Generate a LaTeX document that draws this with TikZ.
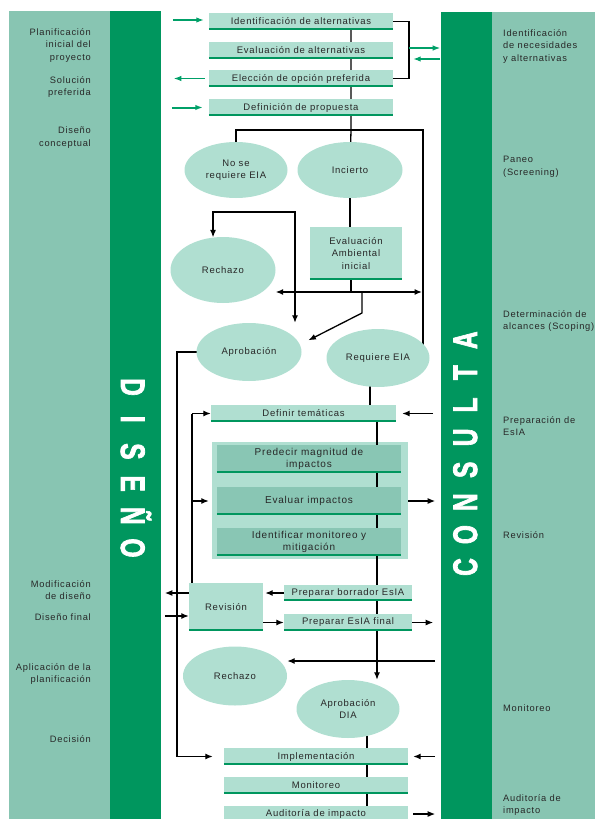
\documentclass[tikz,border=0pt]{standalone}
\usepackage{fontspec}
\setmainfont{Liberation Sans}[LetterSpace=8]
\newfontfamily\letraFuente{Liberation Sans Bold}[FakeBold=2.5]
\usepackage{graphicx}
\usetikzlibrary{calc}
\usetikzlibrary{arrows.meta}
\usetikzlibrary{shapes.geometric}

\definecolor{bandaClara}{RGB}{136,197,178}
\definecolor{bandaOscura}{RGB}{0,150,94}
\definecolor{cajaClara}{RGB}{176,223,209}
\definecolor{cajaMedia}{RGB}{137,198,180}
\definecolor{verdeFlecha}{RGB}{0,160,104}
\definecolor{texto}{RGB}{40,40,40}

\pgfdeclarelayer{fondo}
\pgfdeclarelayer{lineas}
\pgfsetlayers{fondo,lineas,main}

\begin{document}
\begin{tikzpicture}[x=1pt,y=-1pt,
  caja/.style={rectangle,fill=cajaClara,inner sep=0pt,text=texto,align=center,font=\fontsize{9.5}{12.5}\selectfont},
  oval/.style={ellipse,fill=cajaClara,inner sep=0pt,text=texto,align=center,font=\fontsize{9.5}{12.5}\selectfont},
  subcaja/.style={caja,fill=cajaMedia,minimum width=184pt,minimum height=28pt,font=\fontsize{10}{12.5}\selectfont},
  raya/.style={bandaOscura,line width=2pt},
  linea/.style={line width=1.3pt},
  punta/.tip={Latex[length=7.5pt,width=6pt]},
  flecha/.style={line width=1.3pt,-punta},
  flechaV/.style={verdeFlecha,line width=1.3pt,-{Latex[length=7.5pt,width=5.5pt]}},
  etiqIzq/.style={anchor=north east,inner sep=0pt,align=right,text=texto,font=\fontsize{9.3}{12.5}\selectfont},
  etiqDer/.style={anchor=north west,inner sep=0pt,align=left,text=texto,font=\fontsize{9.3}{12.5}\selectfont},
  letra/.style={anchor=base,inner sep=0pt,text=white,font=\letraFuente\fontsize{34}{34}\selectfont}]
\useasboundingbox (0,0) rectangle (595,819);

\coordinate (ejeA) at (351,0);
\coordinate (ejeB) at (377,0);
\coordinate (ejeC) at (367,0);
\coordinate (ejeD) at (370,0);
\coordinate (lat) at (192,0);
\coordinate (lat2) at (177,0);
\coordinate (bifA) at (351,130);
\coordinate (bifB) at (351,292);
\coordinate (bifC) at (377,661);
\coordinate (codoA) at (295,212);
\coordinate (der) at (423,358);

\begin{pgfonlayer}{fondo}
\fill[bandaClara] (9,11) rectangle (110,819);
\fill[bandaOscura] (110,11) rectangle (161,819);
\fill[bandaOscura] (441,12) rectangle (492,819);
\fill[bandaClara] (492,12) rectangle (595,819);
\node[rectangle,fill=cajaClara,minimum width=196pt,minimum height=117pt] (grupo) at (310,500.5) {};
\end{pgfonlayer}

\foreach \l [count=\i from 0] in {D,I,S,E,Ñ,O}
  \node[letra,rotate=-90] at (121,387+32.2*\i) {\scalebox{0.72}[1]{\l}};
\foreach \l [count=\i from 0] in {C,O,N,S,U,L,T,A}
  \node[letra,rotate=90] at (477,567-32.4*\i) {\scalebox{0.72}[1]{\l}};

\node[etiqIzq] (lPlan) at (91,28) {Planificación\\inicial del\\proyecto};
\node[etiqIzq] (lSol) at (91,76) {Solución\\preferida};
\node[etiqIzq] (lConc) at (91,127) {Diseño\\conceptual};
\node[etiqIzq] (lMod) at (91,580) {Modificación\\de diseño};
\node[etiqIzq] (lFin) at (91,614) {Diseño final};
\node[etiqIzq] (lApl) at (91,663) {Aplicación de la\\planificación};
\node[etiqIzq] (lDec) at (91,735) {Decisión};

\node[etiqDer] (rIdent) at (503,29) {Identificación\\de necesidades\\y alternativas};
\node[etiqDer] (rPaneo) at (503,156) {Paneo\\(Screening)};
\node[etiqDer] (rAlc) at (503,310) {Determinación de\\alcances (Scoping)};
\node[etiqDer] (rPrep) at (503,416) {Preparación de\\EsIA};
\node[etiqDer] (rRev) at (503,531) {Revisión};
\node[etiqDer] (rMon) at (503,705) {Monitoreo};
\node[etiqDer] (rAud) at (503,794) {Auditoría de\\impacto};

\node[caja,minimum width=184pt,minimum height=17pt] (ident) at (301,21.5) {Identificación de alternativas};
\node[caja,minimum width=184pt,minimum height=17pt] (evalalt) at (301,50.5) {Evaluación de alternativas};
\node[caja,minimum width=184pt,minimum height=17pt] (eleccion) at (301,78.5) {Elección de opción preferida};
\node[caja,minimum width=184pt,minimum height=17pt] (defprop) at (301,107.5) {Definición de propuesta};

\node[oval,minimum width=103pt,minimum height=56pt] (noeia) at (236,170) {No se\\requiere EIA};
\node[oval,minimum width=105pt,minimum height=56pt] (incierto) at (350,170) {Incierto};
\node[caja,minimum width=92pt,minimum height=53pt] (evalamb) at (356,253.5) {Evaluación\\Ambiental\\inicial};
\node[oval,minimum width=105pt,minimum height=66pt] (rechazoA) at (223,270) {Rechazo};
\node[oval,minimum width=105pt,minimum height=58pt] (aprobA) at (249,352) {Aprobación};
\node[oval,minimum width=103pt,minimum height=58pt] (requiere) at (378,358) {Requiere EIA};

\node[caja,minimum width=185pt,minimum height=17pt] (definir) at (303.5,413.5) {Definir temáticas};
\node[subcaja] (predecir) at (309,459) {Predecir magnitud de\\impactos};
\node[subcaja] (evaluar) at (309,501) {Evaluar impactos};
\node[subcaja] (identmon) at (309,542) {Identificar monitoreo y\\mitigación};

\node[caja,minimum width=74pt,minimum height=48pt] (revision) at (226,607) {Revisión};
\node[caja,minimum width=128pt,minimum height=16pt] (borrador) at (348,593) {Preparar borrador EsIA};
\node[caja,minimum width=128pt,minimum height=17pt] (final) at (348,622.5) {Preparar EsIA final};

\node[oval,minimum width=104pt,minimum height=59pt] (rechazoB) at (235,676) {Rechazo};
\node[oval,minimum width=103pt,minimum height=58pt] (aprobdia) at (348,709) {Aprobación\\DIA};

\node[caja,minimum width=184pt,minimum height=17pt] (implem) at (316,756.5) {Implementación};
\node[caja,minimum width=184pt,minimum height=17pt] (monit) at (316,785.5) {Monitoreo};
\node[caja,minimum width=184pt,minimum height=17pt] (audit) at (316,814) {Auditoría de impacto};

\foreach \n in {ident,evalalt,eleccion,defprop,evalamb,definir,predecir,evaluar,identmon,revision,borrador,final,implem,monit}
  \draw[raya] ($(\n.south west)+(0,-1)$) -- ($(\n.south east)+(0,-1)$);

\begin{pgfonlayer}{lineas}
\draw[linea] (ejeA |- ident.center) -- (bifA) -- (incierto.center);
\draw[linea] (ident.east) -| (409,78.5) -- (eleccion.east);
\draw[linea] (noeia.center) |- (bifA) -| (der);
\draw[linea] (incierto.center) -- (incierto.center |- evalamb.center);
\draw[linea] (evalamb.center -| bifB) -- (bifB);
\draw[flecha] (bifB) -- (bifB -| rechazoA.east);
\draw[flecha,shorten >=1pt] (bifB) -- (bifB -| der);
\draw[flecha] ($(bifB)+(11,0)$) -- ++(0,21) -- ($(aprobA.15)+(12,1)$);
\draw[linea,punta-punta] (rechazoA.107) |- (codoA) -- (codoA |- aprobA.north);
\draw[flecha] (aprobA.center) -- (lat2 |- aprobA.center) |- ($(implem.west)+(-11,0)$);
\draw[linea] (ejeD |- requiere.center) -- (ejeD |- definir.center);
\draw[flecha] ($(definir.east)+(37,0)$) -- ($(definir.east)+(6,0)$);
\draw[flecha] (ejeB |- definir.center) -- (ejeB |- aprobdia.north);
\draw[linea] (lat |- revision.north) -- (lat |- definir.west);
\draw[flecha] (lat |- definir.west) -- (definir.west);
\draw[flecha] (lat |- evaluar.west) -- ($(grupo.west |- evaluar.west)+(-3,0)$);
\draw[flecha] (grupo.east |- evaluar.east) -- ++(27,0);
\draw[flecha,shorten >=2pt] (borrador.west) -- (revision.east |- borrador.west);
\draw[flecha] (revision.east |- final.west) -- (final.west);
\draw[flecha] (final.east) -- ++(21,0);
\draw[flecha] (revision.west |- borrador.west) -- ++(-24,0);
\draw[flecha] ($(revision.west)+(-24,9)$) -- ($(revision.west)+(0,9)$);
\draw[flecha] ($(bifC)+(58,0)$) -- (bifC -| rechazoB.east);
\draw[linea] (ejeC |- aprobdia.center) -- (ejeC |- audit.center);
\draw[flecha] ($(implem.east)+(27,0)$) -- ($(implem.east)+(5,0)$);
\draw[flecha] ($(audit.east)+(5,0)$) -- ++(22,0);
\draw[flechaV] ($(ident.west)+(-36,-1.5)$) -- ($(ident.west)+(-5,-1.5)$);
\draw[flechaV] ($(eleccion.west)+(-4,0)$) -- ($(eleccion.west)+(-35,0)$);
\draw[flechaV,line width=2pt] ($(defprop.west)+(-37,0)$) -- ($(defprop.west)+(-6,0)$);
\draw[flechaV] ($(evalalt.east)+(16,-2.5)$) -- ($(evalalt.east)+(47,-2.5)$);
\draw[flechaV] ($(evalalt.east)+(47,8.5)$) -- ($(evalalt.east)+(20,8.5)$);
\end{pgfonlayer}
\end{tikzpicture}
\end{document}
